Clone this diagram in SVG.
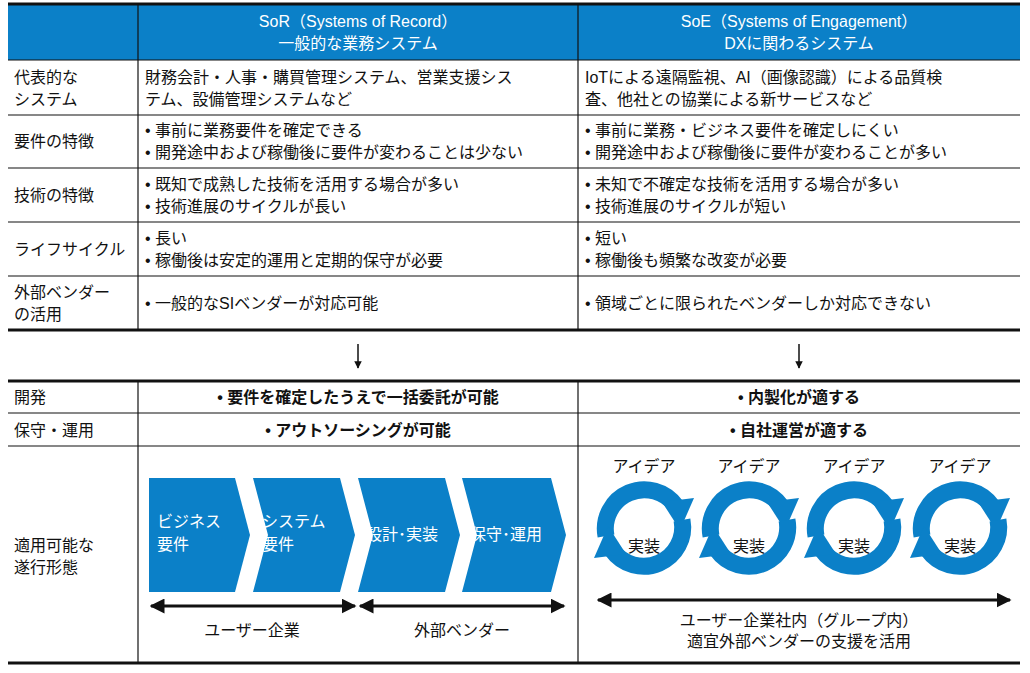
<svg xmlns="http://www.w3.org/2000/svg" width="1030" height="673" viewBox="0 0 1030 673">
<style>
text{font-family:"Liberation Sans","Noto Sans CJK JP",sans-serif;font-size:16px;fill:#111}
.h{fill:#fff;text-anchor:middle}
.c{text-anchor:middle}
.b{font-weight:bold}
.w{fill:#fff}
.thin{stroke:#111;stroke-width:1.2}
.thick{stroke:#111;stroke-width:3}
.blue{fill:#0b80c8}
.arc{fill:none;stroke:#0b80c8;stroke-width:17}
</style>
<defs>
<marker id="ah" viewBox="0 0 10 10" refX="9" refY="5" markerWidth="5" markerHeight="5" orient="auto-start-reverse"><path d="M0,0L10,5L0,10z" fill="#111"/></marker>
<g id="cyc">
<path class="arc" d="M-38,8 A39,39 0 0 1 32,-22"/>
<polygon class="blue" points="18,-26 50,-30 36,2"/>
<path class="arc" d="M38,-8 A39,39 0 0 1 -32,22"/>
<polygon class="blue" points="-18,26 -50,30 -36,-2"/>
</g>
</defs>
<rect x="8" y="4" width="1012" height="56" class="blue"/>
<g id="lines">
<line x1="8" y1="4" x2="1020" y2="4" class="thick"/>
<line x1="8" y1="60" x2="1020" y2="60" class="thin"/>
<line x1="8" y1="115" x2="1020" y2="115" class="thin"/>
<line x1="8" y1="168" x2="1020" y2="168" class="thin"/>
<line x1="8" y1="222" x2="1020" y2="222" class="thin"/>
<line x1="8" y1="276" x2="1020" y2="276" class="thin"/>
<line x1="8" y1="330" x2="1020" y2="330" class="thick"/>
<line x1="138" y1="4" x2="138" y2="330" class="thin"/>
<line x1="578" y1="4" x2="578" y2="330" class="thin"/>
<line x1="8" y1="381" x2="1020" y2="381" class="thick"/>
<line x1="8" y1="413" x2="1020" y2="413" class="thin"/>
<line x1="8" y1="446" x2="1020" y2="446" class="thin"/>
<line x1="8" y1="663" x2="1020" y2="663" class="thick"/>
<line x1="138" y1="381" x2="138" y2="663" class="thin"/>
<line x1="578" y1="381" x2="578" y2="663" class="thin"/>
</g>
<g id="header">
<text class="h" x="358" y="27">SoR（Systems of Record）</text>
<text class="h" x="358" y="49">一般的な業務システム</text>
<text class="h" x="799" y="27">SoE（Systems of Engagement）</text>
<text class="h" x="799" y="49">DXに関わるシステム</text>
</g>
<g id="rows">
<text x="14" y="83">代表的な</text><text x="14" y="105">システム</text>
<text x="145" y="83">財務会計・人事・購買管理システム、営業支援シス</text>
<text x="145" y="105">テム、設備管理システムなど</text>
<text x="585" y="83">IoTによる遠隔監視、AI（画像認識）による品質検</text>
<text x="585" y="105">査、他社との協業による新サービスなど</text>
<text x="14" y="147">要件の特徴</text>
<text x="145" y="136">•  事前に業務要件を確定できる</text>
<text x="145" y="158">•  開発途中および稼働後に要件が変わることは少ない</text>
<text x="585" y="136">•  事前に業務・ビジネス要件を確定しにくい</text>
<text x="585" y="158">•  開発途中および稼働後に要件が変わることが多い</text>
<text x="14" y="201">技術の特徴</text>
<text x="145" y="190">•  既知で成熟した技術を活用する場合が多い</text>
<text x="145" y="212">•  技術進展のサイクルが長い</text>
<text x="585" y="190">•  未知で不確定な技術を活用する場合が多い</text>
<text x="585" y="212">•  技術進展のサイクルが短い</text>
<text x="14" y="255">ライフサイクル</text>
<text x="145" y="244">•  長い</text>
<text x="145" y="266">•  稼働後は安定的運用と定期的保守が必要</text>
<text x="585" y="244">•  短い</text>
<text x="585" y="266">•  稼働後も頻繁な改変が必要</text>
<text x="14" y="298">外部ベンダー</text><text x="14" y="320">の活用</text>
<text x="145" y="309">•  一般的なSIベンダーが対応可能</text>
<text x="585" y="309">•  領域ごとに限られたベンダーしか対応できない</text>
</g>
<g id="connectors">
<line x1="358" y1="344" x2="358" y2="368" stroke="#111" stroke-width="1.5" marker-end="url(#ah)"/>
<line x1="799" y1="344" x2="799" y2="368" stroke="#111" stroke-width="1.5" marker-end="url(#ah)"/>
<line x1="151" y1="606" x2="355" y2="606" stroke="#111" stroke-width="3" marker-start="url(#ah)" marker-end="url(#ah)"/>
<line x1="360" y1="606" x2="564" y2="606" stroke="#111" stroke-width="3" marker-start="url(#ah)" marker-end="url(#ah)"/>
<line x1="598" y1="600" x2="1010" y2="600" stroke="#111" stroke-width="3" marker-start="url(#ah)" marker-end="url(#ah)"/>
</g>
<g id="lower">
<text x="14" y="403">開発</text>
<text class="c b" x="358" y="403">•  要件を確定したうえで一括委託が可能</text>
<text class="c b" x="799" y="403">•  内製化が適する</text>
<text x="14" y="436">保守・運用</text>
<text class="c b" x="358" y="436">•  アウトソーシングが可能</text>
<text class="c b" x="799" y="436">•  自社運営が適する</text>
<text x="14" y="551">適用可能な</text><text x="14" y="573">遂行形態</text>
</g>
<g id="chevrons">
<polygon class="blue" points="149,478 235,478 250,535 235,592 149,592"/>
<polygon class="blue" points="253,478 340,478 355,535 340,592 253,592 268,535"/>
<polygon class="blue" points="358,478 445,478 460,535 445,592 358,592 373,535"/>
<polygon class="blue" points="462,478 551,478 566,535 551,592 462,592 477,535"/>
<text class="w" x="157" y="527">ビジネス</text><text class="w" x="157" y="550">要件</text>
<text class="w" x="262" y="527">システム</text><text class="w" x="262" y="550">要件</text>
<text class="w" x="366" y="540">設計･実装</text>
<text class="w" x="470" y="540">保守･運用</text>
<text class="c" x="252" y="636">ユーザー企業</text>
<text class="c" x="462" y="636">外部ベンダー</text>
</g>
<g id="cycles">
<use href="#cyc" x="644" y="528"/>
<use href="#cyc" x="749" y="528"/>
<use href="#cyc" x="854" y="528"/>
<use href="#cyc" x="960" y="528"/>
<text class="c" x="644" y="472">アイデア</text><text class="c" x="749" y="472">アイデア</text>
<text class="c" x="854" y="472">アイデア</text><text class="c" x="960" y="472">アイデア</text>
<text class="c" x="644" y="552">実装</text><text class="c" x="749" y="552">実装</text>
<text class="c" x="854" y="552">実装</text><text class="c" x="960" y="552">実装</text>
<text class="c" x="799" y="626">ユーザー企業社内（グループ内）</text>
<text class="c" x="799" y="647">適宜外部ベンダーの支援を活用</text>
</g>
</svg>
